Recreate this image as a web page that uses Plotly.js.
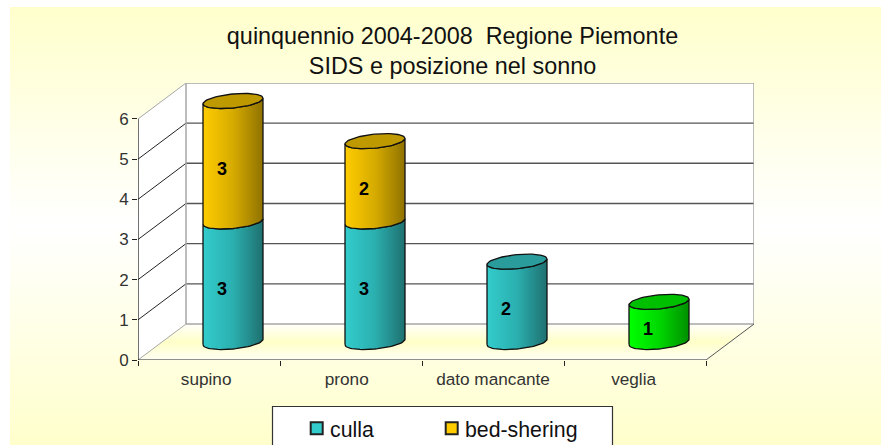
<!DOCTYPE html>
<html><head><meta charset="utf-8">
<script src="https://cdn.plot.ly/plotly-3.0.1.min.js"></script>
<style>
html,body{margin:0;padding:0;background:#fff;overflow:hidden}
#bg{position:absolute;left:10px;top:7px;width:871px;height:438px;background:linear-gradient(to bottom,#ffffcc 0%,#ffffff 50%,#ffffcc 100%)}
#chart{position:absolute;left:0;top:0;width:881px;height:445px}
</style></head><body><div id="bg"></div><div id="chart"></div>
<script>
const categories = ['supino','prono','dato mancante','veglia'];
const culla = [3,3,2,1];
const bedShering = [3,2,0,0];
const yTicks = [0,1,2,3,4,5,6];
const labelPositions = [0.48,1.47,2.5,3.49];
const categoryEdges = [0,1,2,3,4];
const tealSide = ['#33CCCC','#2BAFAF','#1F7070'];
const tealTop = '#2A9C9C';
const yellowSide = ['#FFCC00','#D6AB00','#8F7200'];
const yellowTop = '#BF9900';
const greenSide = ['#00FF00','#00D800','#008F00'];
const greenTop = '#00BF00';

const pxX = 142, pxY = 40.17;
const depthX = 48/pxX, depthY = 36/pxY;
const halfW = 30/pxX, ellB = 7/pxY, ellTilt = 2.8/pxY;
const traces = [];
const line = (xs,ys,color,width)=>traces.push({x:xs,y:ys,mode:'lines',type:'scatter',line:{color,width},hoverinfo:'skip',showlegend:false,cliponaxis:false});
const poly = (xs,ys,extra,lineOpt)=>traces.push(Object.assign({x:xs,y:ys,mode:'lines',type:'scatter',fill:'toself',line:lineOpt||{width:0},hoverinfo:'skip',showlegend:false,cliponaxis:false},extra));

// walls and floor
poly([depthX,4+depthX,4+depthX,depthX,depthX],[depthY,depthY,6+depthY,6+depthY,depthY],{fillcolor:'#ffffff'});
poly([0,depthX,depthX,0,0],[0,depthY,6+depthY,6,0],{fillcolor:'#ffffff'});
poly([0,4,4+depthX,depthX,0],[0,0,depthY,depthY,0],{fillgradient:{type:'vertical',colorscale:[[0,'#fffff4'],[0.5,'#ffffc8'],[1,'#fffffa']]}});
// grid
yTicks.slice(1,-1).forEach(v=>{
  line([depthX,4+depthX],[v+depthY,v+depthY],'#555555',1.4);
  line([0,depthX],[v,v+depthY],'#222222',1);
});
line([depthX,depthX,4+depthX,4+depthX,depthX],[depthY,6+depthY,6+depthY,depthY,depthY],'#a6a6a6',1.5);
line([0,depthX],[6,6+depthY],'#a6a6a6',1);
line([0,depthX],[0,depthY],'#a6a6a6',1);
line([4,4+depthX],[0,depthY],'#555555',1);
line([0,0],[0,6],'#111111',1.2);
line([0,4],[0,0],'#222222',1.2);

function ell(cx,v,t){return [cx+halfW*Math.cos(t), v+depthY/2+ellTilt*Math.cos(t)+ellB*Math.sin(t)];}
function segment(cx,v0,v1,side,top,drawTop){
  const xs=[],ys=[];
  for(let i=0;i<=36;i++){const p=ell(cx,v0,Math.PI+Math.PI*i/36);xs.push(p[0]);ys.push(p[1]);}
  for(let i=36;i>=0;i--){const p=ell(cx,v1,Math.PI+Math.PI*i/36);xs.push(p[0]);ys.push(p[1]);}
  xs.push(xs[0]);ys.push(ys[0]);
  poly(xs,ys,{fillgradient:{type:'horizontal',colorscale:[[0,side[0]],[0.5,side[1]],[1,side[2]]]}},{color:'#111111',width:1.3});
  if(drawTop){
    const tx=[],ty=[];
    for(let i=0;i<=72;i++){const p=ell(cx,v1,2*Math.PI*i/72);tx.push(p[0]);ty.push(p[1]);}
    poly(tx,ty,{fillcolor:top},{color:'#111111',width:1.3});
  }
}
const labelX=[],labelY=[],labelT=[];
categories.forEach((c,i)=>{
  const cx=i+0.5+depthX/2, a=culla[i], b=bedShering[i];
  const isGreen = c==='veglia';
  segment(cx,0,a,isGreen?greenSide:tealSide,isGreen?greenTop:tealTop,b===0);
  if(b>0) segment(cx,a,a+b,yellowSide,yellowTop,true);
  labelX.push(cx-11/pxX);labelY.push(a/2+0.23);labelT.push(String(a));
  if(b>0){labelX.push(cx-11/pxX);labelY.push(a+b/2+0.23);labelT.push(String(b));}
});
traces.push({x:labelX,y:labelY,text:labelT,mode:'text',type:'scatter',textposition:'middle center',textfont:{family:'Liberation Sans, Arial',size:18,color:'#000',weight:700},hoverinfo:'skip',showlegend:false,cliponaxis:false});
traces.push({x:[null],y:[null],name:'culla',mode:'markers',type:'scatter',marker:{symbol:'square',size:12,color:tealSide[0],line:{color:'#222',width:1}}});
traces.push({x:[null],y:[null],name:'bed-shering',mode:'markers',type:'scatter',marker:{symbol:'square',size:12,color:yellowSide[0],line:{color:'#222',width:1}}});

const W=616,H=277;
const layout={
  width:881,height:445,
  margin:{l:138,r:127,t:83,b:85,pad:0,autoexpand:false},
  paper_bgcolor:'rgba(0,0,0,0)',plot_bgcolor:'rgba(0,0,0,0)',
  font:{family:'Liberation Sans, Arial',color:'#333'},
  title:{text:'quinquennio 2004-2008\u00a0\u00a0Regione Piemonte<br>SIDS e posizione nel sonno',x:452.5/881,xanchor:'center',y:1-44/445,yanchor:'middle',font:{size:23.4,color:'#111'}},
  xaxis:{range:[0,4+depthX],tickvals:labelPositions,ticktext:categories,ticks:'',showgrid:false,zeroline:false,showline:false,tickfont:{size:17.2,color:'#333'},ticklabelstandoff:7,
    minor:{tickvals:categoryEdges,ticks:'outside',ticklen:5,tickcolor:'#222',tickwidth:1,showgrid:false}},
  yaxis:{range:[0,H/pxY],tickvals:yTicks,ticks:'outside',ticklen:5,tickcolor:'#222',tickwidth:1,showgrid:false,zeroline:false,showline:false,tickfont:{size:17,color:'#333'}},
  shapes:[{type:'rect',xref:'paper',yref:'paper',x0:(272.5-138)/W,x1:(612.5-138)/W,y0:(360-447)/H,y1:(360-406.5)/H,fillcolor:'#fff',line:{color:'#333',width:1.2},layer:'above'}],
  legend:{orientation:'h',xref:'paper',yref:'paper',x:(290-138)/W,xanchor:'left',y:(360-408)/H,yanchor:'top',bgcolor:'rgba(0,0,0,0)',borderwidth:0,font:{size:21.3,color:'#111'},entrywidth:135,entrywidthmode:'pixels',itemsizing:'constant',itemclick:false,itemdoubleclick:false},
  showlegend:true,hovermode:false
};
Plotly.newPlot('chart',traces,layout,{staticPlot:true,displayModeBar:false}).then(()=>{
  document.querySelectorAll('.legend .legendsymbols').forEach(g=>g.setAttribute('transform','translate(6.7,0)'));
  const items=document.querySelectorAll('.legend .traces');
  if(items.length>1){
    const m=/translate\(\s*([-\d.]+)[ ,]+([-\d.]+)/.exec(items[1].getAttribute('transform')||'');
    if(m) items[1].setAttribute('transform','translate('+(parseFloat(m[1])-45)+','+m[2]+')');
  }
});
</script></body></html>
